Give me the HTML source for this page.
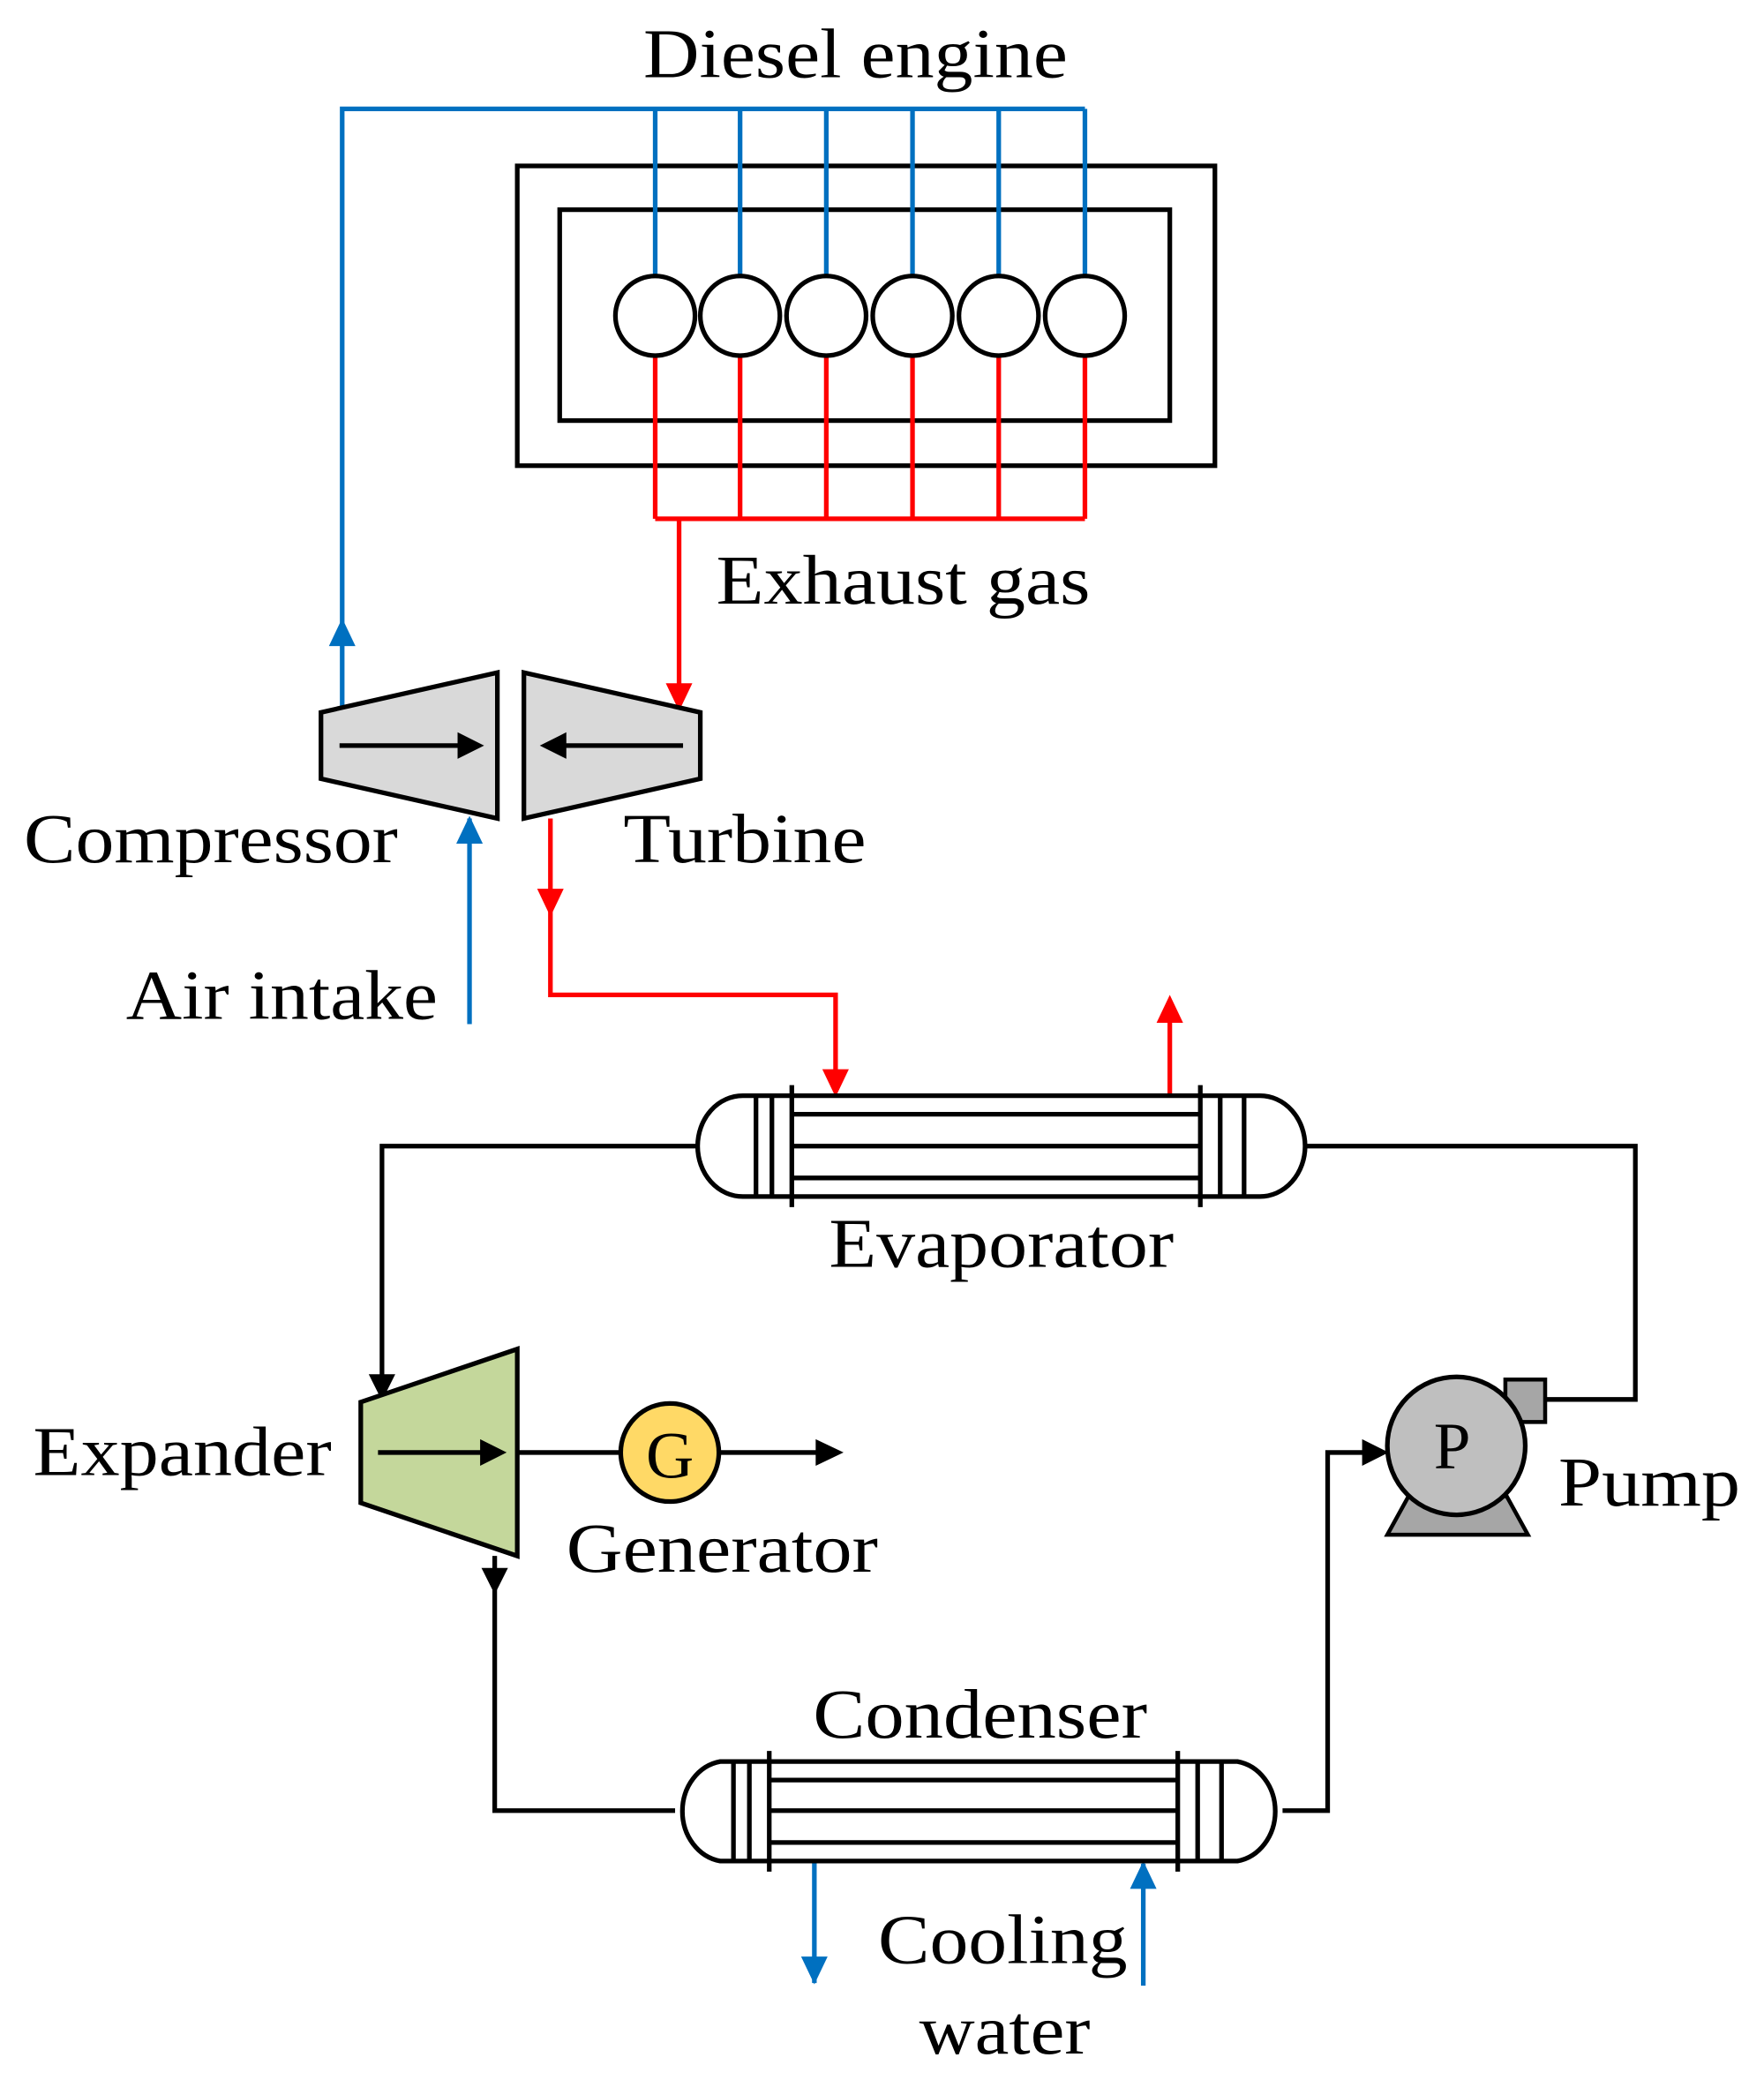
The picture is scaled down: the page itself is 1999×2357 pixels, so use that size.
<!DOCTYPE html>
<html><head><meta charset="utf-8"><style>html,body{margin:0;padding:0;background:#fff}svg{display:block}</style></head>
<body>
<svg width="1999" height="2357" viewBox="0 0 1330 1568" xmlns="http://www.w3.org/2000/svg" font-family="'Liberation Serif', serif" font-size="53">
<g fill="none" stroke-width="3.5">
<rect x="390" y="125" width="526" height="226" stroke="#000"/>
<rect x="422" y="158" width="460" height="159" stroke="#000"/>
<g stroke="#0070c0">
<path d="M258,535 V82 H818"/>
<path d="M494,82V208 M558,82V208 M623,82V208 M688,82V208 M753,82V208 M818,82V208"/>
<path d="M354,772 V617" />
<path d="M614,1403 V1495"/>
<path d="M862,1497 V1405"/>
</g>
<g fill="#0070c0">
<path d="M248,487 L258,466 L268,487z"/>
<path d="M344,636 L354,615 L364,636z"/>
<path d="M604,1475 L614,1496 L624,1475z"/>
<path d="M852,1424 L862,1403 L872,1424z"/>
</g>
<g stroke="#ff0000">
<path d="M494,268V391 M558,268V391 M623,268V391 M688,268V391 M753,268V391 M818,268V391 M494,391H818"/>
<path d="M512,391 V520"/>
<path d="M415,617 V750 H630 V812"/>
<path d="M882,826 V770"/>
</g>
<g fill="#ff0000">
<path d="M502,515 L512,536 L522,515z"/>
<path d="M405,670 L415,691 L425,670z"/>
<path d="M620,806 L630,827 L640,806z"/>
<path d="M872,771 L882,750 L892,771z"/>
</g>
<g fill="#fff" stroke="#000">
<circle cx="494" cy="238" r="30"/><circle cx="558" cy="238" r="30"/><circle cx="623" cy="238" r="30"/>
<circle cx="688" cy="238" r="30"/><circle cx="753" cy="238" r="30"/><circle cx="818" cy="238" r="30"/>
</g>
<polygon points="242,537 375,507 375,617 242,587" fill="#d9d9d9" stroke="#000"/>
<polygon points="395,507 528,537 528,587 395,617" fill="#d9d9d9" stroke="#000"/>
<path d="M256,562 H350" stroke="#000"/><path d="M345,552 L365,562 L345,572z" fill="#000" stroke="none"/>
<path d="M515,562 H422" stroke="#000"/><path d="M427,552 L407,562 L427,572z" fill="#000" stroke="none"/>
<g stroke="#000">
<path d="M526,864 H288 V1042"/>
<path d="M985,864 H1233 V1055 H1165"/>
<path d="M390,1095 H468 M542,1095 H620"/>
<path d="M373,1173 V1365 H509"/>
<path d="M967,1365 H1001 V1095 H1030"/>
</g>
<g fill="#000">
<path d="M278,1036 L288,1056 L298,1036z"/>
<path d="M615,1085 L636,1095 L615,1105z"/>
<path d="M363,1182 L373,1202 L383,1182z"/>
<path d="M1027,1085 L1047,1095 L1027,1105z"/>
</g>
<polygon points="272,1057 390,1017 390,1173 272,1133" fill="#c4d79b" stroke="#000"/>
<path d="M285,1095 H365" stroke="#000"/><path d="M362,1085 L382,1095 L362,1105z" fill="#000" stroke="none"/>
<circle cx="505" cy="1095" r="37" fill="#ffd966" stroke="#000"/>
<rect x="1135" y="1040" width="30" height="32" fill="#a6a6a6" stroke="#000" stroke-width="3"/>
<polygon points="1062,1128 1136,1128 1152,1157 1046,1157" fill="#a6a6a6" stroke="#000" stroke-width="3"/>
<circle cx="1098" cy="1090" r="52" fill="#bfbfbf" stroke="#000"/>
<g stroke="#000">
<path d="M560,826 A34,38 0 0 0 560,902 H950 A34,38 0 0 0 950,826 Z" fill="#fff"/>
<path d="M570,826V902 M582,826V902 M597,818V910 M905,818V910 M920,826V902 M938,826V902"/>
<path d="M597,840H905 M597,864H905 M597,888H905"/>
</g>
<g stroke="#000">
<path d="M543,1328 A34,38 0 0 0 543,1403 H933 A34,38 0 0 0 933,1328 Z" fill="#fff"/>
<path d="M553,1328V1403 M565,1328V1403 M580,1320V1411 M888,1320V1411 M903,1328V1403 M921,1328V1403"/>
<path d="M580,1342H888 M580,1365H888 M580,1389H888"/>
</g>
</g>
<g fill="#000" lengthAdjust="spacingAndGlyphs">
<text x="485" y="58" textLength="320" lengthAdjust="spacingAndGlyphs">Diesel engine</text>
<text x="540" y="455" textLength="282" lengthAdjust="spacingAndGlyphs">Exhaust gas</text>
<text x="18" y="650" textLength="282" lengthAdjust="spacingAndGlyphs">Compressor</text>
<text x="470" y="650" textLength="183" lengthAdjust="spacingAndGlyphs">Turbine</text>
<text x="95" y="768" textLength="235" lengthAdjust="spacingAndGlyphs">Air intake</text>
<text x="625" y="955" textLength="260" lengthAdjust="spacingAndGlyphs">Evaporator</text>
<text x="25" y="1112" textLength="225" lengthAdjust="spacingAndGlyphs">Expander</text>
<text x="487" y="1114" font-size="50">G</text>
<text x="427" y="1185" textLength="235" lengthAdjust="spacingAndGlyphs">Generator</text>
<text x="1081" y="1107" font-size="50">P</text>
<text x="1175" y="1135" textLength="137" lengthAdjust="spacingAndGlyphs">Pump</text>
<text x="613" y="1310" textLength="252" lengthAdjust="spacingAndGlyphs">Condenser</text>
<text x="662" y="1480" textLength="188" lengthAdjust="spacingAndGlyphs">Cooling</text>
<text x="693" y="1548" textLength="129" lengthAdjust="spacingAndGlyphs">water</text>
</g>
</svg>
</body></html>
